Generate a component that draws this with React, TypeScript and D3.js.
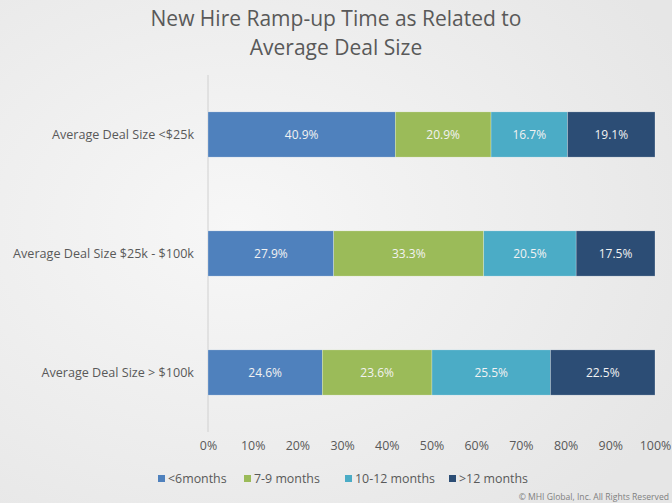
import React, { useRef, useEffect } from "react";
import * as d3 from "d3";

const categories = [
  "Average Deal Size <$25k",
  "Average Deal Size $25k - $100k",
  "Average Deal Size > $100k",
];
const seriesNames = ["<6months", "7-9 months", "10-12 months", ">12 months"];
const seriesColors = ["#4F81BD", "#9BBB59", "#4BACC6", "#2C4D75"];
const under6 = [40.9, 27.9, 24.6];
const m7to9 = [20.9, 33.3, 23.6];
const m10to12 = [16.7, 20.5, 25.5];
const over12 = [19.1, 17.5, 22.5];
const xTicks = [0, 0.1, 0.2, 0.3, 0.4, 0.5, 0.6, 0.7, 0.8, 0.9, 1];

const W = 672;
const H = 503;
const FONT = "'Open Sans', 'Liberation Sans', sans-serif";

const App = () => {
  const ref = useRef<SVGSVGElement | null>(null);

  useEffect(() => {
    if (!ref.current) return;
    const svg = d3.select(ref.current);
    svg.selectAll("*").remove();

    const margin = { top: 75, right: 17, bottom: 71, left: 208 };
    const width = W - margin.left - margin.right;
    const height = H - margin.top - margin.bottom;

    // background
    const defs = svg.append("defs");
    const grad = defs
      .append("radialGradient")
      .attr("id", "bg")
      .attr("cx", "35%")
      .attr("cy", "45%")
      .attr("r", "75%");
    grad.append("stop").attr("offset", "0%").attr("stop-color", "#f7f7f7");
    grad.append("stop").attr("offset", "100%").attr("stop-color", "#e6e6e6");
    svg.append("rect").attr("width", W).attr("height", H).attr("fill", "url(#bg)");

    // title
    const title = svg
      .append("text")
      .attr("x", W / 2)
      .attr("text-anchor", "middle")
      .style("font-family", FONT)
      .style("font-size", "21px")
      .style("fill", "#595959");
    title.append("tspan").attr("x", W / 2).attr("y", 26).text("New Hire Ramp-up Time as Related to");
    title.append("tspan").attr("x", W / 2).attr("y", 55).text("Average Deal Size");

    const chart = svg
      .append("g")
      .attr("transform", `translate(${margin.left},${margin.top})`);

    const x = d3.scaleLinear().domain([0, 1]).range([0, width]);
    const y = d3.scaleBand().domain(categories).range([0, height]).paddingInner(0.62).paddingOuter(0.31);

    const rows = categories.map((c, i) => {
      const vals = [under6[i], m7to9[i], m10to12[i], over12[i]];
      const total = d3.sum(vals);
      const row: Record<string, any> = { cat: c };
      seriesNames.forEach((s, j) => (row[s] = vals[j] / total));
      row.raw = vals;
      return row;
    });

    const stacked = d3.stack<any>().keys(seriesNames)(rows);

    // axis line
    chart
      .append("line")
      .attr("x1", 0)
      .attr("x2", 0)
      .attr("y1", 0)
      .attr("y2", height)
      .attr("stroke", "#d0d0d0")
      .attr("stroke-width", 1);

    stacked.forEach((layer, j) => {
      const g = chart.append("g");
      g.selectAll("rect")
        .data(layer)
        .enter()
        .append("rect")
        .attr("x", (d) => x(d[0]))
        .attr("y", (d) => y(d.data.cat) || 0)
        .attr("width", (d) => x(d[1]) - x(d[0]))
        .attr("height", y.bandwidth())
        .attr("fill", seriesColors[j])
        .attr("stroke", "#ffffff")
        .attr("stroke-opacity", 0.5)
        .attr("stroke-width", 0.5);
      g.selectAll("text")
        .data(layer)
        .enter()
        .append("text")
        .attr("x", (d) => (x(d[0]) + x(d[1])) / 2)
        .attr("y", (d) => (y(d.data.cat) || 0) + y.bandwidth() / 2)
        .attr("dy", "0.35em")
        .attr("text-anchor", "middle")
        .style("font-family", FONT)
        .style("font-size", "12px")
        .style("fill", "#f2f2f2")
        .text((d) => `${d.data.raw[j].toFixed(1)}%`);
    });

    // category labels
    chart
      .append("g")
      .call(d3.axisLeft(y).tickSize(0).tickPadding(14))
      .call((g) => g.select(".domain").remove())
      .selectAll("text")
      .style("font-family", FONT)
      .style("font-size", "12.6px")
      .style("fill", "#595959");

    // x axis
    chart
      .append("g")
      .attr("transform", `translate(0,${height})`)
      .call(
        d3
          .axisBottom(x)
          .tickValues(xTicks)
          .tickSize(0)
          .tickPadding(9)
          .tickFormat((d) => `${Math.round((d as number) * 100)}%`)
      )
      .call((g) => g.select(".domain").remove())
      .selectAll("text")
      .style("font-family", FONT)
      .style("font-size", "12.4px")
      .style("fill", "#595959");

    // legend
    const legendX = [158, 244, 345, 449];
    const legend = svg.append("g");
    seriesNames.forEach((s, j) => {
      legend
        .append("rect")
        .attr("x", legendX[j])
        .attr("y", 475)
        .attr("width", 7)
        .attr("height", 7)
        .attr("fill", seriesColors[j]);
      legend
        .append("text")
        .attr("x", legendX[j] + 10)
        .attr("y", 483)
        .style("font-family", FONT)
        .style("font-size", "12.4px")
        .style("fill", "#595959")
        .text(s);
    });

    svg
      .append("text")
      .attr("x", W - 3)
      .attr("y", 500)
      .attr("text-anchor", "end")
      .style("font-family", FONT)
      .style("font-size", "8.6px")
      .style("fill", "#7f7f7f")
      .text("© MHI Global, Inc. All Rights Reserved");
  }, []);

  return (
    <svg
      ref={ref}
      width={W}
      height={H}
      style={{ position: "absolute", left: 0, top: 0, display: "block" }}
    />
  );
};

export default App;
